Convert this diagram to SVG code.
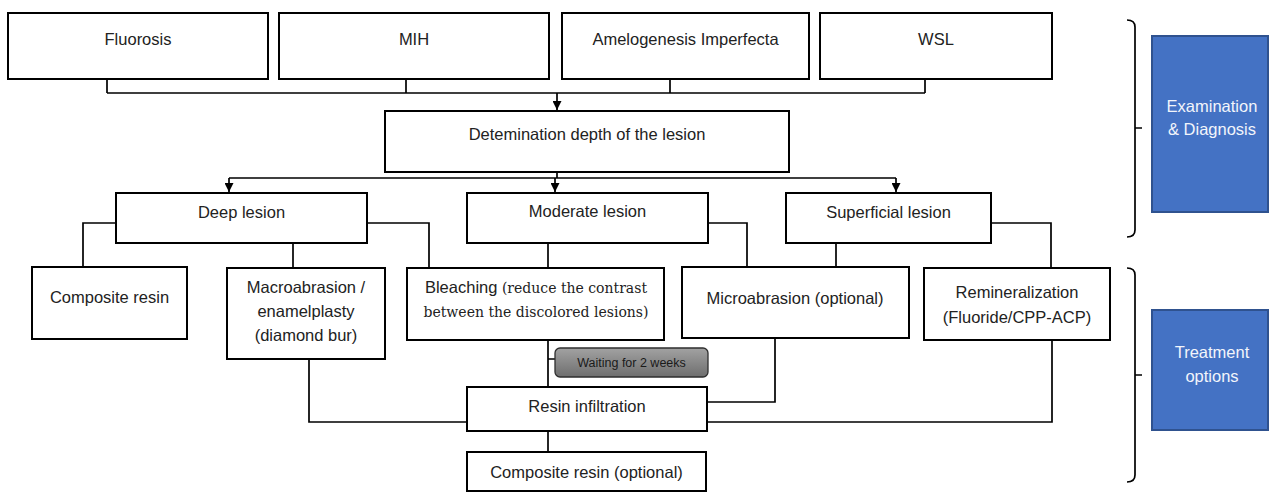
<svg xmlns="http://www.w3.org/2000/svg" width="1270" height="493" viewBox="0 0 1270 493">
<style>
.box{fill:#fff;stroke:#000;stroke-width:2}
.blue{fill:#4472C4;stroke:#2F528F;stroke-width:2}
.t{font-family:"Liberation Sans",Arial,sans-serif;font-size:16.5px;fill:#222;text-anchor:middle}
.s{font-family:"DejaVu Serif","Liberation Serif",serif;font-size:14px}
.w{fill:#F2F5FB}
.c{fill:none;stroke:#000;stroke-width:1.7}
.br{fill:none;stroke:#000;stroke-width:1.7}
</style>
<defs>
<marker id="ah" viewBox="0 0 10 10" refX="10" refY="5" markerWidth="9" markerHeight="9" orient="auto" markerUnits="userSpaceOnUse">
<path d="M0,0 L10,5 L0,10 z" fill="#000"/>
</marker>
<linearGradient id="gg" x1="0" y1="0" x2="0" y2="1">
<stop offset="0" stop-color="#a2a2a2"/>
<stop offset="1" stop-color="#6e6e6e"/>
</linearGradient>
</defs>
<g id="connectors">
<path class="c" d="M107,79 V93 M406,79 V93 M670,79 V93 M925,79 V93 M107,93 H925"/>
<path class="c" d="M557,93 V110" marker-end="url(#ah)"/>
<path class="c" d="M557,172 V178 M229,178 H896"/>
<path class="c" d="M229,178 V192" marker-end="url(#ah)"/>
<path class="c" d="M555,178 V192" marker-end="url(#ah)"/>
<path class="c" d="M896,178 V192" marker-end="url(#ah)"/>
<path class="c" d="M116,223 H83 V267"/>
<path class="c" d="M293,243 V268"/>
<path class="c" d="M367,223 H429 V268"/>
<path class="c" d="M548,243 V268"/>
<path class="c" d="M708,223 H747 V267"/>
<path class="c" d="M836,243 V267"/>
<path class="c" d="M991,223 H1051 V268"/>
<path class="c" d="M309,359 V422 H467"/>
<path class="c" d="M548,340 V387 M548,359 H555"/>
<path class="c" d="M775,338 V402 H707"/>
<path class="c" d="M1052,340 V422 H707"/>
<path class="c" d="M548,431 V452"/>
</g>
<g id="fluorosis"><rect class="box" x="8" y="13" width="260" height="66"/><text class="t" x="138" y="45">Fluorosis</text></g>
<g id="mih"><rect class="box" x="279" y="13" width="270" height="66"/><text class="t" x="414" y="45">MIH</text></g>
<g id="amelogenesis"><rect class="box" x="562" y="13" width="247" height="66"/><text class="t" x="685.5" y="45">Amelogenesis Imperfecta</text></g>
<g id="wsl"><rect class="box" x="820" y="13" width="232" height="66"/><text class="t" x="936" y="45">WSL</text></g>
<g id="determination"><rect class="box" x="385" y="111" width="404" height="61"/><text class="t" x="587" y="140">Detemination depth of the lesion</text></g>
<g id="deep"><rect class="box" x="116" y="193" width="251" height="50"/><text class="t" x="241.5" y="218">Deep lesion</text></g>
<g id="moderate"><rect class="box" x="467" y="193" width="241" height="50"/><text class="t" x="587.5" y="217">Moderate lesion</text></g>
<g id="superficial"><rect class="box" x="786" y="193" width="205" height="50"/><text class="t" x="888.5" y="218">Superficial lesion</text></g>
<g id="composite"><rect class="box" x="32" y="267" width="155" height="72"/><text class="t" x="109.5" y="303">Composite resin</text></g>
<g id="macroabrasion"><rect class="box" x="227" y="268" width="158" height="91"/><text class="t" x="306" y="293">Macroabrasion /</text><text class="t" x="306" y="317">enamelplasty</text><text class="t" x="306" y="341">(diamond bur)</text></g>
<g id="bleaching"><rect class="box" x="407" y="268" width="257" height="72"/><text class="t" x="536" y="293">Bleaching<tspan class="s"> (reduce the contrast</tspan></text><text class="t s" x="536" y="317">between the discolored lesions)</text></g>
<g id="microabrasion"><rect class="box" x="682" y="267" width="227" height="71"/><text class="t" x="795" y="304">Microabrasion (optional)</text></g>
<g id="remineralization"><rect class="box" x="924" y="268" width="186" height="72"/><text class="t" x="1017" y="298">Remineralization</text><text class="t" x="1017" y="323">(Fluoride/CPP-ACP)</text></g>
<g id="waiting"><rect x="555" y="348" width="153" height="29" rx="5" fill="url(#gg)" stroke="#2e2e2e" stroke-width="1.3"/><text class="t" x="631.5" y="367" style="font-size:12.5px;fill:#1a1a1a">Waiting for 2 weeks</text></g>
<g id="resin"><rect class="box" x="467" y="387" width="240" height="44"/><text class="t" x="587" y="412">Resin infiltration</text></g>
<g id="composite-optional"><rect class="box" x="467" y="452" width="239" height="39"/><text class="t" x="586.5" y="478">Composite resin (optional)</text></g>
<g id="brackets">
<path class="br" d="M1127,20 Q1135,20 1135,27 V230 Q1135,237 1127,237 M1135,128 H1142"/>
<path class="br" d="M1127,268 Q1135,268 1135,275 V475 Q1135,482 1127,482 M1135,375 H1142"/>
</g>
<g id="exam"><rect class="blue" x="1152" y="36" width="116" height="176"/><text class="t w" x="1212" y="112">Examination</text><text class="t w" x="1212" y="135">&amp; Diagnosis</text></g>
<g id="treatment"><rect class="blue" x="1152" y="310" width="116" height="120"/><text class="t w" x="1212" y="358">Treatment</text><text class="t w" x="1212" y="382">options</text></g>
</svg>
